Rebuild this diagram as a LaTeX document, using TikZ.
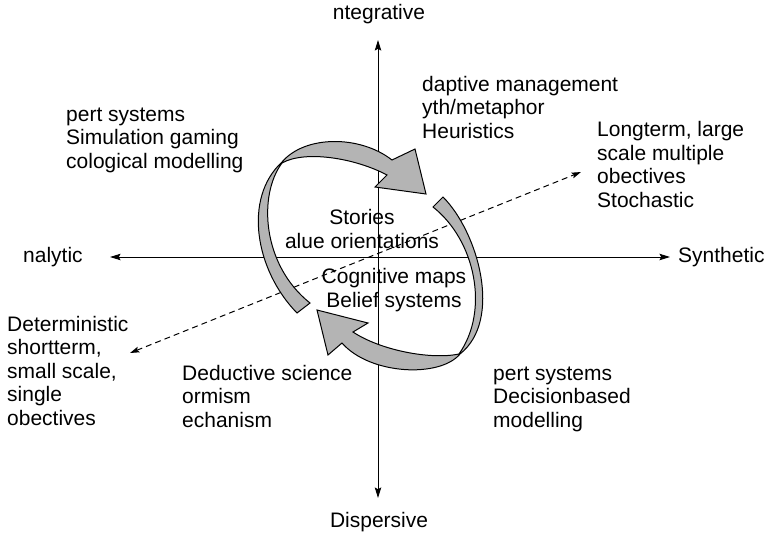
\documentclass[tikz,border=0pt]{standalone}
\usepackage{fontspec}
\setmainfont{Liberation Sans}
\usetikzlibrary{arrows.meta}
\definecolor{ribbon}{RGB}{180,180,180}
\begin{document}
\begin{tikzpicture}[x=0.03cm,y=-0.03cm,
  lbl/.style={inner sep=0pt,font=\fontsize{17.9}{20}\selectfont},
  axis/.style={line width=0.85pt,-{Stealth[length=9pt,width=5.5pt,inset=1.5pt]}},
  dim/.style={line width=0.85pt,dash pattern=on 5pt off 3.5pt,{Stealth[length=8pt,width=5pt,inset=1.5pt]}-{Stealth[length=8pt,width=5pt,inset=1.5pt]}},
  band/.style={fill=ribbon,draw=black,line width=0.85pt,line join=miter}]
\useasboundingbox (0,0) rectangle (768,533);
% axes
\coordinate (O) at (378,257);
\coordinate (top) at (378,40);
\coordinate (bot) at (378,498);
\coordinate (lft) at (110,257);
\coordinate (rgt) at (670,257);
\coordinate (dl) at (130,353);
\coordinate (dr) at (581,172);
\draw[axis] (O) -- (top);
\draw[axis] (O) -- (bot);
\draw[axis] (O) -- (lft);
\draw[axis] (O) -- (rgt);
\draw[dim] (dl) -- (dr);
% upper ribbon arrow
\draw[band] (297,313) .. controls (255,270) and (243,198) .. (282,162)
  .. controls (305,135) and (360,135) .. (392,160)
  -- (415,149) -- (426,194) -- (375,187) -- (387,175)
  .. controls (355,158) and (305,150) .. (282,163)
  .. controls (258,195) and (262,265) .. (310,303) -- cycle;
% lower ribbon arrow
\draw[band] (443,197) .. controls (478,232) and (503,320) .. (460,354)
  .. controls (440,378) and (370,375) .. (342,343)
  -- (328,355) -- (317,310) -- (368,323) -- (353,332)
  .. controls (380,350) and (430,360) .. (459,354)
  .. controls (490,310) and (475,240) .. (433,207) -- cycle;
% labels (multi-line nodes: base anchor = last line)
\node[lbl,anchor=base] (integ) at (379,19) {ntegrative};
\node[lbl,anchor=base] (disp) at (379,527) {Dispersive};
\node[lbl,anchor=base west] (anal) at (23,262) {nalytic};
\node[lbl,anchor=base west] (synth) at (678,262) {Synthetic};
\node[lbl,anchor=base west,align=left] (exp1) at (66,168) {pert systems\\Simulation gaming\\cological modelling};
\node[lbl,anchor=base west,align=left] (adapt) at (422,138) {daptive management\\yth/metaphor\\Heuristics};
\node[lbl,anchor=base west,align=left] (long) at (597,207) {Longterm, large\\scale multiple\\obectives\\Stochastic};
\node[lbl,anchor=base,align=center] (stor) at (362,248) {Stories\\alue orientations};
\node[lbl,anchor=base,align=center] (cog) at (394,307) {Cognitive maps\\Belief systems};
\node[lbl,anchor=base west,align=left] (det) at (7,425) {Deterministic\\shortterm,\\small scale,\\single\\obectives};
\node[lbl,anchor=base west,align=left] (ded) at (182,427) {Deductive science\\ormism\\echanism};
\node[lbl,anchor=base west,align=left] (exp2) at (493,427) {pert systems\\Decisionbased\\modelling};
\end{tikzpicture}
\end{document}
